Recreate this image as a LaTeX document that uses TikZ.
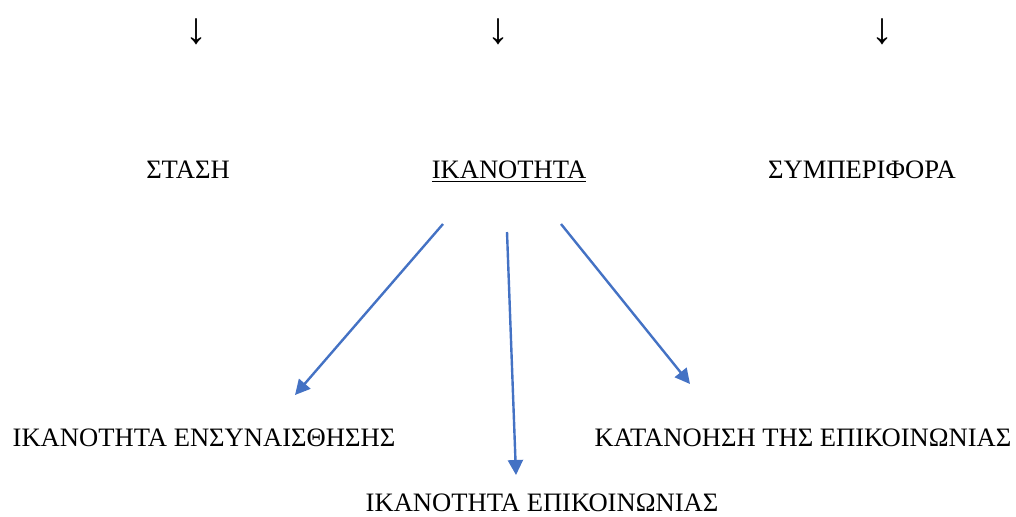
\documentclass[tikz,border=0pt]{standalone}
\usepackage{fontspec}
\setmainfont{Liberation Serif}
\usetikzlibrary{positioning,arrows.meta}
\definecolor{arrowblue}{HTML}{4472C4}

\begin{document}
\begin{tikzpicture}[x=0.5pt,y=-0.5pt,
  every node/.style={inner sep=0pt,font=\fontsize{13.3}{16}\selectfont},
  down/.style={font=\fontsize{22}{24}\selectfont},
  link/.style={-{Triangle[length=7.5pt,width=7.5pt]},arrowblue,line width=1.2pt}]
  \useasboundingbox (0,0) rectangle (1016,516);

  \node (stasi) at (188,170) {ΣΤΑΣΗ};
  \node (ikan) at (509,172) {\underline{ΙΚΑΝΟΤΗΤΑ}};
  \node (symp) at (862,170) {ΣΥΜΠΕΡΙΦΟΡΑ};

  \node [down] (stasiarr) at (196,32) {↓};
  \node [down] (ikanarr) at (498,32) {↓};
  \node [down] (symparr) at (882,32) {↓};

  \node (ensyn) at (204,438) {ΙΚΑΝΟΤΗΤΑ ΕΝΣΥΝΑΙΣΘΗΣΗΣ};
  \node (katan) at (803,438) {ΚΑΤΑΝΟΗΣΗ ΤΗΣ ΕΠΙΚΟΙΝΩΝΙΑΣ};
  \node (epik) at (542,503) {ΙΚΑΝΟΤΗΤΑ ΕΠΙΚΟΙΝΩΝΙΑΣ};

  \coordinate (ensynfrom) at (443,224);
  \coordinate (ensynto) at (295,395);
  \coordinate (epikfrom) at (507,232);
  \coordinate (epikto) at (516,475);
  \coordinate (katanfrom) at (561,224);
  \coordinate (katanto) at (690,384);

  \draw [link] (ensynfrom) -- (ensynto);
  \draw [link] (epikfrom) -- (epikto);
  \draw [link] (katanfrom) -- (katanto);

\end{tikzpicture}
\end{document}
